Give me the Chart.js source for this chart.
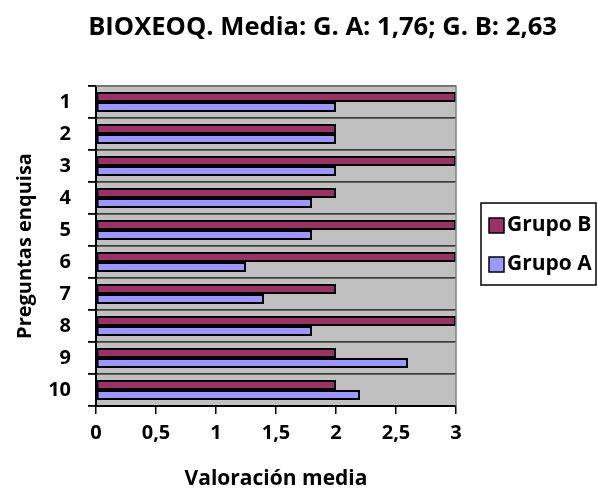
<!DOCTYPE html>
<html>
<head>
<meta charset="utf-8">
<script src="https://cdn.jsdelivr.net/npm/chart.js@4/dist/chart.umd.min.js"></script>
<style>
  html, body { margin: 0; padding: 0; background: #fff; }
  #wrap { width: 597px; height: 490px; }
</style>
</head>
<body>
<div id="wrap"><canvas id="enquisaChart" width="597" height="490"></canvas></div>
<script>
// Data
const preguntas = ["1", "2", "3", "4", "5", "6", "7", "8", "9", "10"];
const grupoB = [3, 2, 3, 2, 3, 3, 2, 3, 2, 2];
const grupoA = [2, 2, 2, 1.8, 1.8, 1.25, 1.4, 1.8, 2.6, 2.2];
const serieLabels = ["Grupo B", "Grupo A"];
const serieColors = ["#993366", "#9999FF"];
const titulo = "BIOXEOQ. Media: G. A: 1,76; G. B: 2,63";

const FONT = "'Open Sans', 'DejaVu Sans', sans-serif";

// Gray plot area like the old Excel charts
const plotBackground = {
    id: "plotBackground",
    beforeDraw(chart) {
        const { ctx, chartArea: a } = chart;
        ctx.save();
        ctx.fillStyle = "#C0C0C0";
        ctx.fillRect(a.left, a.top, a.right - a.left, a.bottom - a.top);
        ctx.restore();
    },
    afterDraw(chart) {
        const { ctx, chartArea: a } = chart;
        ctx.save();
        ctx.strokeStyle = "#808080";
        ctx.lineWidth = 1.5;
        ctx.beginPath();
        ctx.moveTo(a.left, a.top);
        ctx.lineTo(a.right, a.top);
        ctx.lineTo(a.right, a.bottom);
        ctx.stroke();
        ctx.restore();
    }
};

// Boxed legend on the right side: reserves room through the layout, draws from the datasets
const boxedLegend = {
    id: "boxedLegend",
    beforeInit(chart) {
        const box = {
            position: "right",
            weight: 10,
            fullSize: false,
            options: {},
            left: 0, top: 0, right: 0, bottom: 0, width: 0, height: 0,
            isHorizontal() { return false; },
            update(maxWidth, maxHeight) { this.width = 101; this.height = maxHeight; },
            draw() {}
        };
        Chart.layouts.addBox(chart, box);
    },
    afterDraw(chart) {
        const { ctx, chartArea: a } = chart;
        const x = a.right + 25;
        const mid = (a.top + a.bottom) / 2;
        const y = mid - 43;
        const w = chart.width - x - 1;
        const h = 82;
        ctx.save();
        ctx.strokeStyle = "#000";
        ctx.lineWidth = 1.5;
        ctx.strokeRect(x, y, w, h);
        ctx.font = "bold 21px " + FONT;
        ctx.textBaseline = "middle";
        chart.data.datasets.forEach((ds, i) => {
            const cy = mid - 20.5 + i * 39;
            ctx.fillStyle = ds.backgroundColor;
            ctx.fillRect(x + 8, cy - 7.5, 15, 15);
            ctx.strokeStyle = "#000";
            ctx.lineWidth = 1.5;
            ctx.strokeRect(x + 8, cy - 7.5, 15, 15);
            ctx.fillStyle = "#000";
            ctx.fillText(ds.label, x + 26, cy);
        });
        ctx.restore();
    }
};

const ctx = document.getElementById("enquisaChart").getContext("2d");
new Chart(ctx, {
    type: "bar",
    data: {
        labels: preguntas,
        datasets: [
            { label: serieLabels[0], data: grupoB, backgroundColor: serieColors[0] },
            { label: serieLabels[1], data: grupoA, backgroundColor: serieColors[1] }
        ]
    },
    options: {
        indexAxis: "y",
        responsive: false,
        animation: false,
        datasets: {
            bar: {
                borderColor: "#000",
                borderWidth: 2,
                borderSkipped: false,
                categoryPercentage: 0.63,
                barPercentage: 1
            }
        },
        layout: { padding: { left: 8, right: 40, top: 0, bottom: 0 } },
        plugins: {
            legend: { display: false },
            tooltip: { enabled: false },
            title: {
                display: true,
                text: titulo,
                align: "end",
                color: "#000",
                font: { family: FONT, size: 25.6, weight: "bold", lineHeight: 1.2 },
                padding: { top: 12, bottom: 43.3 }
            }
        },
        scales: {
            x: {
                min: 0,
                max: 3,
                afterFit(scale) { scale.height = 84; },
                ticks: {
                    stepSize: 0.5,
                    color: "#000",
                    padding: 7,
                    font: { family: FONT, size: 20, weight: "bold" },
                    callback: v => String(v).replace(".", ",")
                },
                grid: { drawOnChartArea: false, tickLength: 8, tickColor: "#000", lineWidth: 1.5 },
                border: { color: "#000", width: 2 },
                title: {
                    display: true,
                    text: "Valoración media",
                    color: "#000",
                    font: { family: FONT, size: 21, weight: "bold", lineHeight: 1 },
                    padding: { top: 12, bottom: 0 }
                }
            },
            y: {
                afterFit(scale) { scale.width = 88; },
                ticks: {
                    color: "#000",
                    padding: 17,
                    font: { family: FONT, size: 20, weight: "bold" }
                },
                grid: { color: "#404040", lineWidth: 1.8, tickColor: "#000", tickLength: 8, offset: true },
                border: { color: "#000", width: 2 },
                title: {
                    display: true,
                    text: "Preguntas enquisa",
                    color: "#000",
                    font: { family: FONT, size: 20, weight: "bold" },
                    padding: { top: 5, bottom: 8 }
                }
            }
        }
    },
    plugins: [plotBackground, boxedLegend]
});
</script>
</body>
</html>
